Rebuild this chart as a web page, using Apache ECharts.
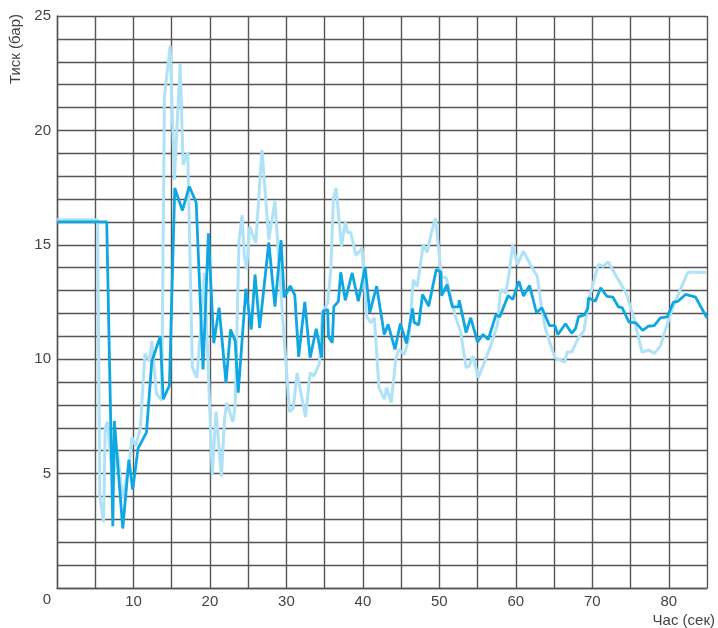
<!DOCTYPE html>
<html>
<head>
<meta charset="utf-8">
<script src="https://cdn.jsdelivr.net/npm/echarts@6/dist/echarts.min.js"></script>
<style>html,body{margin:0;padding:0;background:#fff}#c{width:718px;height:628px}</style>
</head>
<body>
<div id="c"></div>
<script>
// Light series (time, pressure)
const lightX = [0,5.3,5.6,6.1,6.3,6.6,7.3,7.9,8.6,9.5,9.8,10.3,10.9,11.5,12.1,12.4,13.0,13.7,14.05,14.8,15.35,16.1,16.5,17.1,17.7,18.3,19.3,20.3,20.8,21.5,21.9,22.2,23.0,23.3,23.8,24.2,24.5,24.8,25.2,26.0,26.8,27.7,28.5,29.5,30.4,30.9,31.4,32.5,33.1,33.6,34.3,34.7,35.4,35.8,36.15,36.5,37.2,37.7,38.0,38.4,39.1,39.9,40.5,41.0,41.5,42.1,42.8,43.1,43.7,44.3,44.7,45.4,46.0,46.6,47.1,47.9,48.4,49.0,49.5,50.0,50.3,50.9,52.1,52.8,53.5,53.9,54.4,55.1,55.7,56.7,57.6,58.0,58.7,59.1,59.6,60.2,61.0,61.9,62.8,63.4,63.9,65.1,66.4,66.7,67.3,68.2,68.9,69.6,70.8,71.4,72.1,73.0,74.4,75.4,76.5,77.4,78.1,78.9,79.5,80.6,81.7,82.5,85.0];
const lightY = [16.1,16.1,4.0,2.87,7.0,7.26,4.5,6.0,3.9,5.6,6.6,6.2,7.0,10.25,9.9,10.8,8.5,8.2,21.48,23.7,17.85,22.9,18.5,19.04,9.63,9.19,13.77,4.97,7.71,4.87,7.37,8.1,7.26,7.95,15.15,16.3,14.5,13.92,15.8,15.08,19.15,15.23,16.9,11.88,7.7,7.85,9.4,7.47,9.4,9.26,9.8,12.0,12.46,13.9,17.05,17.48,14.93,15.98,15.52,15.55,14.53,14.86,11.88,11.59,11.81,8.76,8.25,8.76,8.1,9.99,10.43,10.21,10.86,13.48,13.16,15.0,14.67,15.59,16.17,14.5,13.6,13.56,11.88,11.16,9.63,9.7,10.14,9.19,9.7,10.57,11.52,13.04,12.9,13.7,15.0,14.14,14.72,14.14,13.63,12.17,11.3,10.07,9.87,10.31,10.31,10.94,11.23,12.68,14.14,14.06,14.25,13.7,12.9,11.85,10.31,10.4,10.25,10.57,11.23,12.32,13.19,13.8,13.8];

// Dark series (time, pressure)
const darkX = [0,6.5,7.3,7.5,8.6,9.4,9.9,10.6,11.7,12.4,13.5,13.9,14.7,15.4,16.4,17.3,18.2,19.1,19.8,20.5,21.2,22.1,22.7,23.3,23.7,24.7,25.4,25.9,26.5,27.7,28.5,29.3,29.7,30.5,31.1,31.6,32.4,33.1,33.9,34.6,34.8,35.4,35.5,36.0,36.2,36.8,37.1,37.7,38.6,39.4,40.3,40.9,41.8,42.8,43.3,44.2,44.9,45.7,46.5,46.7,47.3,47.8,48.6,49.6,50.2,50.3,51.0,51.7,52.5,52.6,53.5,54.1,55.0,55.7,56.4,57.4,57.9,59.0,59.6,60.4,61.0,61.8,62.7,63.4,64.4,65.1,65.5,66.5,67.3,67.8,68.2,69.0,69.4,69.5,70.4,71.1,71.9,72.7,73.4,73.9,74.8,75.7,76.6,77.3,78.1,78.9,79.8,80.6,81.2,82.2,83.5,85.0];
const darkY = [16.0,16.0,2.7,7.3,2.6,5.6,4.3,6.1,6.8,9.9,11.0,8.25,8.85,17.48,16.5,17.55,16.85,9.55,15.5,10.7,12.25,8.97,11.3,10.8,8.54,13.08,11.3,13.7,11.37,15.1,12.3,15.2,12.7,13.2,12.8,10.1,12.5,10.07,11.33,10.07,12.1,12.17,10.98,10.72,12.3,12.53,13.8,12.57,13.77,12.53,14.03,12.03,13.19,11.08,11.52,10.43,11.56,10.69,12.22,11.6,11.5,12.83,12.32,13.92,13.8,12.78,13.26,12.29,12.29,12.58,11.16,11.81,10.75,11.08,10.86,11.95,11.85,12.78,12.61,13.41,12.76,13.22,12.03,12.25,11.47,11.47,11.08,11.55,11.13,11.33,11.85,11.95,12.22,12.68,12.53,13.12,12.75,12.71,12.29,12.25,11.62,11.59,11.26,11.44,11.47,11.81,11.85,12.49,12.53,12.83,12.71,11.8];

const xTickLabels = [10,20,30,40,50,60,70,80];
const yTickLabels = [0,5,10,15,20,25];
const xTitle = 'Час (сек)';
const yTitle = 'Тиск (бар)';

const zip = (xs, ys) => xs.map((x, i) => [x, ys[i]]);

const chart = echarts.init(document.getElementById('c'), null, {renderer: 'canvas'});
const FONT = 'Liberation Sans, Arial, sans-serif';
const lineCol = '#555';
const gridLine = {show: true, lineStyle: {color: lineCol, width: 1.4}};

chart.setOption({
  animation: false,
  backgroundColor: '#fff',
  grid: {left: 57, right: 8, top: 16, bottom: 39, containLabel: false},
  xAxis: {
    type: 'value', min: 0, max: 85, interval: 5,
    name: xTitle, nameLocation: 'end', nameGap: 8,
    nameTextStyle: {align: 'right', verticalAlign: 'top', padding: [25, 0, 0, 0], color: '#444', fontSize: 15, fontFamily: FONT},
    axisLine: {show: true, lineStyle: {color: lineCol, width: 1.4}},
    axisTick: {show: false},
    splitLine: gridLine,
    axisLabel: {
      margin: 6, color: '#444', fontSize: 15, fontFamily: FONT,
      formatter: v => xTickLabels.indexOf(v) >= 0 ? String(v) : ''
    }
  },
  yAxis: {
    type: 'value', min: 0, max: 25, interval: 1,
    axisLine: {show: true, lineStyle: {color: lineCol, width: 1.4}},
    axisTick: {show: false},
    splitLine: gridLine,
    axisLabel: {
      margin: 6, color: '#444', fontSize: 15, fontFamily: FONT,
      formatter: v => v === 0 ? '{z|0}' : (yTickLabels.indexOf(v) >= 0 ? String(v) : ''),
      rich: {z: {padding: [24, 0, 0, 0], color: '#444', fontSize: 15, fontFamily: FONT}}
    }
  },
  graphic: [{
    type: 'text', x: 16, y: 49, rotation: Math.PI / 2,
    style: {text: yTitle, textAlign: 'center', textVerticalAlign: 'middle', fill: '#444', font: '15px ' + FONT}
  }],
  series: [
    {type: 'line', data: zip(lightX, lightY), showSymbol: false, symbol: 'none',
     lineStyle: {color: '#b0e2f7', width: 3}, itemStyle: {color: '#b0e2f7'}, z: 2},
    {type: 'line', data: zip(darkX, darkY), showSymbol: false, symbol: 'none',
     lineStyle: {color: '#0ea7e2', width: 2.8}, itemStyle: {color: '#0ea7e2'}, z: 3}
  ]
});
</script>
</body>
</html>
